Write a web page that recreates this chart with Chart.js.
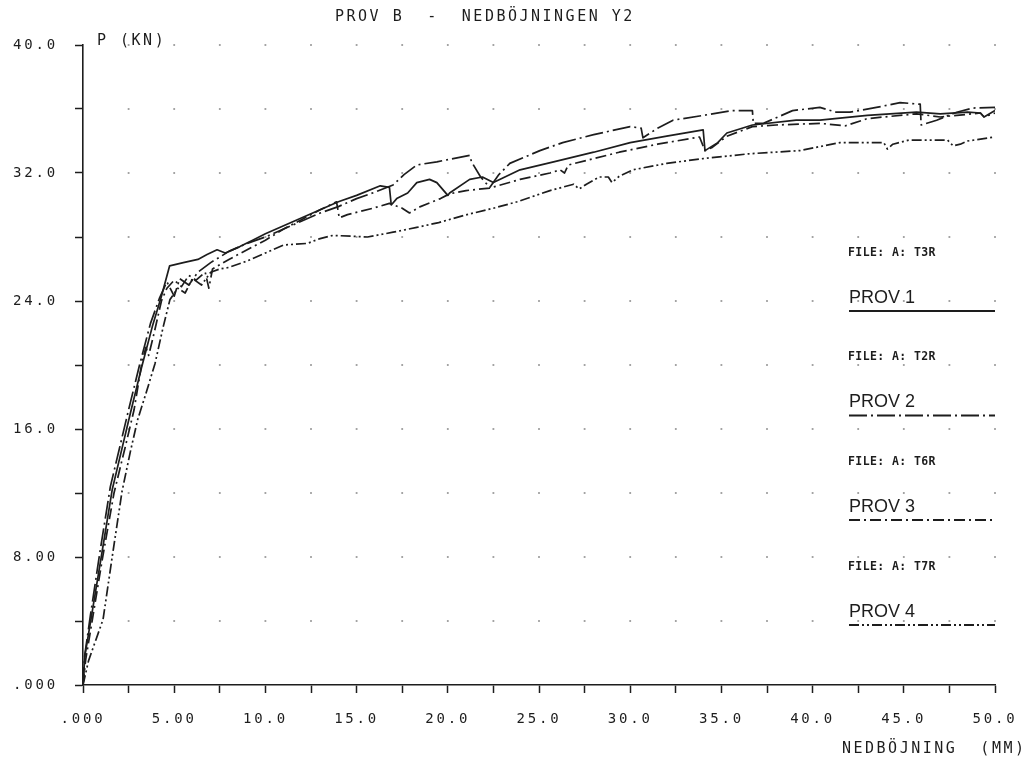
<!DOCTYPE html>
<html>
<head>
<meta charset="utf-8">
<script src="https://cdn.jsdelivr.net/npm/chart.js@4.4.1/dist/chart.umd.min.js"></script>
<style>
  html, body { margin: 0; padding: 0; background: #ffffff; }
  #wrap { width: 1022px; height: 760px; }
</style>
</head>
<body>
<div id="wrap"><canvas id="c" width="1022" height="760"></canvas></div>
<script>
// Load P (kN) against deflection (mm) for the four beams of test series B.
const prov1X = [0,0.1,0.45,1.0,1.6,2.1,2.6,3.2,3.8,4.3,4.75,5.5,6.3,6.8,7.35,7.8,8.6,9.3,10,11,12,13,14,15,16.3,16.8,16.9,17.2,17.8,18.3,19.0,19.4,20.0,20.1,21.2,21.9,22.5,23.96,25.8,28,30,32,34.0,34.1,34.8,35.3,36.7,39.1,40.4,43,45.7,47,48.5,49.2,49.4,50];
const prov1Y = [0,1.8,4.2,8.0,12.2,14.6,17.0,19.8,22.4,24.3,26.2,26.4,26.6,26.9,27.2,27.0,27.4,27.8,28.2,28.7,29.2,29.7,30.2,30.6,31.2,31.1,30.0,30.4,30.75,31.4,31.6,31.4,30.6,30.75,31.6,31.75,31.4,32.2,32.7,33.3,33.9,34.3,34.7,33.4,33.9,34.5,35.0,35.3,35.3,35.6,35.8,35.7,35.8,35.75,35.5,35.9];

const prov2X = [0,0.1,0.4,0.9,1.5,2.0,2.5,3.1,3.7,4.2,4.6,5.0,5.3,5.8,6.3,7.0,8.0,9.0,10,11,12,13,14,15,16,17.0,17.6,18.3,19.4,21.2,21.3,21.8,22.3,22.8,23.4,25.05,26.3,28,30.0,30.6,30.7,31.5,32.35,34,35.6,36.7,36.75,37.3,38.9,40.4,41.3,42.05,43.5,44.8,45.9,45.95,46.8,47.9,48.8,50];
const prov2Y = [0,1.9,4.3,8.1,12.4,14.8,17.2,20.0,22.6,24.2,25.2,24.3,25.4,25.0,25.8,26.4,27.1,27.6,28.0,28.5,29.0,29.5,29.9,30.4,30.8,31.25,31.9,32.5,32.7,33.1,32.7,31.75,31.1,31.9,32.6,33.4,33.9,34.4,34.9,34.8,34.2,34.8,35.3,35.6,35.9,35.9,35.1,35.1,35.9,36.1,35.8,35.8,36.1,36.4,36.3,35.0,35.3,35.8,36.06,36.1];

const prov3X = [0,0.15,0.5,1.05,1.7,2.3,2.8,3.25,3.45,3.6,3.9,4.3,4.6,5.0,5.4,5.8,6.2,6.7,6.9,7.1,8,9,10,11,12,13,13.9,14.05,14.5,15.9,16.8,17.5,17.9,18.5,19.6,20.1,21,22.3,23.96,25.6,26.15,26.4,26.6,28,29.4,31.5,33.8,34.1,34.5,35.3,36.7,38,40.4,41.8,43,45.7,47,49.2,49.4,50];
const prov3Y = [0,1.6,4.0,7.8,12.0,14.8,17.2,20.3,21.1,20.6,22.0,24.0,24.8,25.3,24.9,25.6,25.3,25.8,24.8,26.0,26.6,27.2,27.8,28.5,29.1,29.7,30.2,29.2,29.4,29.8,30.1,29.8,29.5,29.9,30.4,30.7,30.9,31.06,31.6,32.0,32.2,32.0,32.5,32.9,33.3,33.8,34.25,33.4,33.6,34.3,34.9,35.0,35.1,34.95,35.4,35.7,35.5,35.75,35.5,35.75];

const prov4X = [0,0.3,0.7,1.1,1.6,2.14,2.6,3.0,3.5,3.95,4.4,4.77,5.2,5.6,6.0,6.5,7.0,7.5,8,9,10,11,12.3,13.0,13.7,15.6,17,18.3,19.5,21.05,22.5,23.8,25.6,26.9,27.2,27.6,28.3,28.8,29.0,29.4,30.15,32,34.0,36.5,39.3,41.5,43.9,44.1,44.4,45.3,47.4,47.7,48.1,48.5,50];
const prov4Y = [0,1.5,2.8,4.1,8.0,12.1,14.6,16.6,18.4,20.1,22.4,24.1,24.8,24.5,25.4,25.0,25.8,26.0,26.1,26.5,27.0,27.5,27.6,27.9,28.1,28.0,28.3,28.6,28.9,29.4,29.8,30.2,30.9,31.3,31.0,31.3,31.75,31.75,31.4,31.8,32.2,32.6,32.9,33.2,33.4,33.9,33.9,33.5,33.8,34.06,34.06,33.7,33.8,34.0,34.25];

const seriesNames = ['PROV 1', 'PROV 2', 'PROV 3', 'PROV 4'];
const fileNames = ['FILE: A: T3R', 'FILE: A: T2R', 'FILE: A: T6R', 'FILE: A: T7R'];
const xTickLabels = ['.000', '5.00', '10.0', '15.0', '20.0', '25.0', '30.0', '35.0', '40.0', '45.0', '50.0'];
const yTickLabels = ['.000', '8.00', '16.0', '24.0', '32.0', '40.0'];
const chartTitle = 'PROV B  -  NEDBÖJNINGEN Y2';
const xTitle = 'NEDBÖJNING  (MM)';
const yTitle = 'P (KN)';

const INK = '#1d1d1d';
const MONO = '"DejaVu Sans Mono", monospace';
const dashes = [[], [18, 4, 2, 4], [11, 4, 2, 4], [10, 3, 2, 3, 2, 3]];

const toPoints = (xs, ys) => xs.map((x, i) => ({ x: x, y: ys[i] }));
const seriesData = [toPoints(prov1X, prov1Y), toPoints(prov2X, prov2Y), toPoints(prov3X, prov3Y), toPoints(prov4X, prov4Y)];

const datasets = seriesData.map((pts, i) => ({
  label: seriesNames[i],
  data: pts,
  borderColor: INK,
  borderWidth: 1.7,
  borderDash: dashes[i],
  pointRadius: 0,
  tension: 0,
  fill: false,
  borderJoinStyle: 'round'
}));

function spacedText(ctx, text, x, y, font, spacing, align) {
  ctx.save();
  ctx.font = font;
  ctx.letterSpacing = spacing + 'px';
  ctx.fillStyle = INK;
  ctx.textAlign = align || 'left';
  ctx.textBaseline = 'middle';
  ctx.fillText(text, x, y);
  ctx.restore();
}

// Dotted grid at every tick crossing, plus plot texts and the key on the right.
const plotterDecor = {
  id: 'plotterDecor',
  beforeDraw(chart) {
    chart.ctx.letterSpacing = '2.8px';
  },
  beforeDatasetsDraw(chart) {
    const { ctx, scales: { x, y } } = chart;
    ctx.save();
    ctx.fillStyle = '#9a9a9a';
    x.ticks.forEach(tx => {
      if (tx.value === 0) return;
      const px = x.getPixelForValue(tx.value);
      y.ticks.forEach(ty => {
        if (ty.value === 0) return;
        const py = y.getPixelForValue(ty.value);
        ctx.fillRect(px - 0.9, py - 0.9, 1.8, 1.8);
      });
    });
    ctx.restore();
  },
  afterDraw(chart) {
    const ctx = chart.ctx;
    spacedText(ctx, chartTitle, 335, 17, '15px ' + MONO, 2.5, 'left');
    spacedText(ctx, yTitle, 97, 41, '15px ' + MONO, 2.5, 'left');
    spacedText(ctx, xTitle, 842, 749, '15px ' + MONO, 2.5, 'left');

    const keyLeft = 849, keyRight = 995;
    const keyTop = [253, 357.5, 462, 567];
    seriesNames.forEach((name, i) => {
      const t = keyTop[i];
      spacedText(ctx, fileNames[i], keyLeft - 1, t, 'bold 11.5px ' + MONO, 0.4, 'left');
      ctx.save();
      ctx.font = '18px "Liberation Sans", Arial, sans-serif';
      ctx.letterSpacing = '0px';
      ctx.fillStyle = INK;
      ctx.textBaseline = 'middle';
      ctx.fillText(name, keyLeft, t + 45);
      ctx.strokeStyle = INK;
      ctx.lineWidth = 1.8;
      ctx.setLineDash(dashes[i]);
      ctx.beginPath();
      ctx.moveTo(keyLeft, t + 58);
      ctx.lineTo(keyRight, t + 58);
      ctx.stroke();
      ctx.restore();
    });
  }
};

const near = (v, step) => Math.abs(v / step - Math.round(v / step)) < 1e-6;

new Chart(document.getElementById('c'), {
  type: 'line',
  data: { datasets: datasets },
  plugins: [plotterDecor],
  options: {
    responsive: false,
    animation: false,
    events: [],
    layout: { padding: { left: 0, top: 45, right: 27, bottom: 0 } },
    plugins: { legend: { display: false }, title: { display: false }, tooltip: { enabled: false } },
    scales: {
      x: {
        type: 'linear',
        min: 0, max: 50,
        afterFit(scale) {
          scale.height = 75;
          scale.paddingLeft = 0;
          scale.paddingRight = 0;
        },
        ticks: {
          stepSize: 2.5,
          autoSkip: false,
          maxRotation: 0,
          padding: 18,
          color: INK,
          font: { family: MONO, size: 14 },
          callback: v => near(v, 5) ? xTickLabels[Math.round(v / 5)] : ''
        },
        grid: { drawOnChartArea: false, drawTicks: true, tickLength: 8, tickColor: INK, tickWidth: 1.5, tickBorderDash: [] },
        border: { display: true, color: INK, width: 1.6 }
      },
      y: {
        type: 'linear',
        min: 0, max: 40,
        afterFit(scale) {
          scale.width = 83;
          scale.paddingTop = 0;
          scale.paddingBottom = 0;
        },
        ticks: {
          stepSize: 4,
          autoSkip: false,
          padding: 17,
          color: INK,
          font: { family: MONO, size: 14 },
          callback: v => near(v, 8) ? yTickLabels[Math.round(v / 8)] : ''
        },
        grid: { drawOnChartArea: false, drawTicks: true, tickLength: 8, tickColor: INK, tickWidth: 1.5, tickBorderDash: [] },
        border: { display: true, color: INK, width: 1.6 }
      }
    }
  }
});
</script>
</body>
</html>
